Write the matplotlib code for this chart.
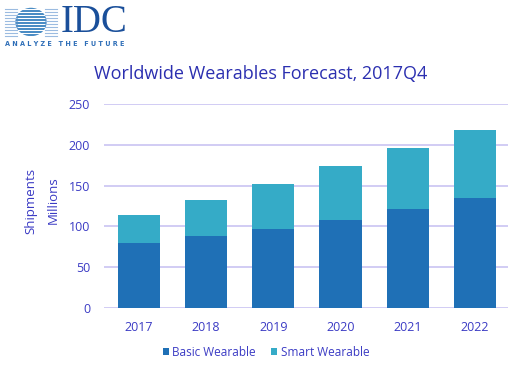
import numpy as np
import matplotlib.pyplot as plt
from matplotlib.patches import Ellipse

years = ["2017", "2018", "2019", "2020", "2021", "2022"]
basic = [79.5, 88.5, 97.5, 108.5, 121, 134.5]
smart = [35, 44, 54.5, 65.5, 75.5, 84]

text_color = "#3b3bc4"
grid_color = "#c9c3f2"
basic_color = "#1f70b6"
smart_color = "#35abc7"

plt.rcParams['font.family'] = ['Open Sans', 'DejaVu Sans']

fig = plt.figure(figsize=(5.12, 3.68), dpi=100)
ax = fig.add_axes([0.203, 0.163, 0.789, 0.554])

x = np.arange(len(years))
ax.bar(x, basic, width=0.63, color=basic_color, label="Basic Wearable", zorder=3)
ax.bar(x, smart, width=0.63, bottom=basic, color=smart_color, label="Smart Wearable", zorder=3)

ax.set_xlim(-0.52, 5.49)
ax.set_ylim(0, 250)
ax.set_yticks([0, 50, 100, 150, 200, 250])
ax.set_xticks(x)
ax.set_xticklabels(years)
ax.yaxis.grid(True, color=grid_color, linewidth=1.2, zorder=0)
for s in ax.spines.values():
    s.set_visible(False)
ax.tick_params(length=0, colors=text_color, labelsize=9)
ax.tick_params(axis='y', pad=10)
ax.tick_params(axis='x', pad=9)

fig.text(0.061, 0.455, "Shipments", rotation=90, ha="center", va="center",
         color=text_color, fontsize=9.5)
fig.text(0.104, 0.455, "Millions", rotation=90, ha="center", va="center",
         color=text_color, fontsize=9.5)

fig.text(0.51, 0.80, "Worldwide Wearables Forecast, 2017Q4", ha="center", va="center",
         color="#2b2fb0", fontsize=13)

fig.legend(loc="center", bbox_to_anchor=(0.52, 0.043), ncol=2, frameon=False,
           fontsize=8.5, labelcolor=text_color, handlelength=0.5, handleheight=0.5,
           handletextpad=0.3, columnspacing=1.3)

# IDC logo, drawn in pixel-like coordinates (y down)
logo = fig.add_axes([0.0, 1 - 55 / 368, 200 / 512, 55 / 368])
logo.set_xlim(0, 200)
logo.set_ylim(55, 0)
logo.axis("off")
logo.add_patch(Ellipse((31, 22), 30, 27, color="#1f70b6", zorder=1))
for yy in np.arange(9, 37, 3):
    logo.plot([5, 57], [yy, yy], color="white", linewidth=1.0, zorder=2)
    logo.plot([5, 17], [yy, yy], color="#9bbbe0", linewidth=0.8, zorder=3)
    logo.plot([45, 57], [yy, yy], color="#9bbbe0", linewidth=0.8, zorder=3)
logo.text(61, 23, "IDC", fontfamily="Liberation Serif", fontsize=28, color="#1a4f9a",
          va="center", ha="left")
logo.text(5, 44, "A N A L Y Z E   T H E   F U T U R E", fontsize=4.7, color="#2f6fb8",
          va="center", ha="left", fontweight="bold", fontfamily="DejaVu Sans")

fig.savefig("out.png", dpi=100)
